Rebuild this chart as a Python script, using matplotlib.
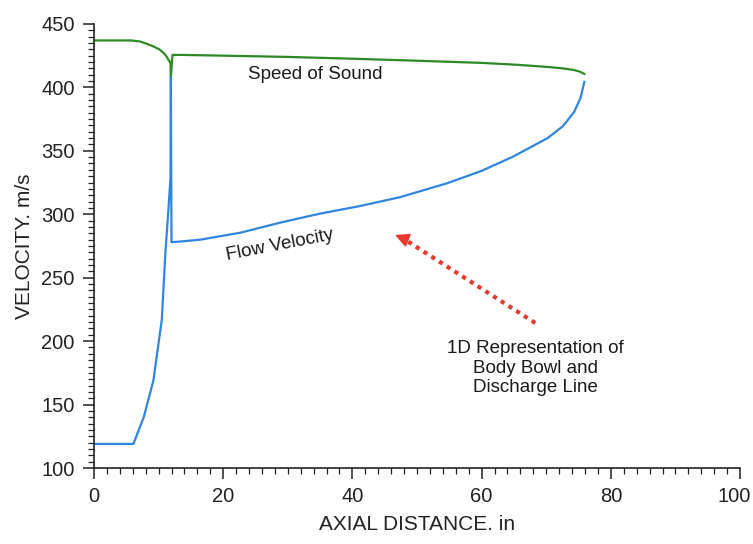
import matplotlib
matplotlib.use("Agg")
import matplotlib.pyplot as plt
from matplotlib.ticker import MultipleLocator, FuncFormatter

plt.rcParams['font.family'] = ['Liberation Sans', 'DejaVu Sans']

# Speed of sound along the axial distance (in, m/s)
sound_x = [0, 3, 5.7, 7.1, 8.1, 9.1, 10.1, 10.7, 11.15, 11.55, 11.85, 11.9,
           12.15, 13.4, 20, 30, 40, 50, 60, 65.5, 70.2, 72.5, 74.3, 75.2, 75.9]
sound_v = [437, 437, 437, 436.2, 434.5, 432.5, 430, 427.5, 425, 421.6, 419.3,
           408.2, 425.6, 425.6, 425, 424, 422.6, 421, 419.3, 417.8, 416.1, 415,
           413.7, 412.4, 410.6]

# Flow velocity along the axial distance (in, m/s)
flow_x = [0, 6.1, 7.7, 9.2, 10.5, 11.05, 11.55, 11.85, 11.9, 12.0, 13.4,
          16.5, 22.7, 28.9, 35.0, 41.2, 47.4, 54.7, 59.9,
          64.9, 70.2, 72.6, 74.3, 75.3, 75.9]
flow_v = [119, 119, 140, 169, 217, 269.5, 305.7, 329.4, 408, 278, 278.5,
          280, 285.5, 293.5, 300.5, 306.5, 313.5, 324.5, 334,
          345.5, 360, 369.5, 380.5, 391.5, 404.3]

X_MAX = 100

fig = plt.figure(figsize=(7.53, 5.44), dpi=100)
ax = fig.add_axes([0.1248, 0.1397, 0.858, 0.8163])

ax.plot(sound_x, sound_v, color='#2e8a26', lw=1.6, solid_joinstyle='round')
ax.plot(flow_x, flow_v, color='#2f86e0', lw=1.6, solid_joinstyle='round')

ax.set_xlim(0, X_MAX)
ax.set_ylim(100, 450)
ax.xaxis.set_major_locator(MultipleLocator(20))
ax.xaxis.set_minor_locator(MultipleLocator(2))
ax.yaxis.set_major_locator(MultipleLocator(50))
ax.yaxis.set_minor_locator(MultipleLocator(5))
# the last x label is drawn separately, shifted in from the figure edge
ax.xaxis.set_major_formatter(
    FuncFormatter(lambda v, _: '' if v >= X_MAX else f'{v:.0f}'))

for side in ('top', 'right'):
    ax.spines[side].set_visible(False)
for side in ('left', 'bottom'):
    ax.spines[side].set_linewidth(1.2)
    ax.spines[side].set_color('#222222')

ax.tick_params(which='major', direction='out', length=8, width=1.1,
               labelsize=14.5, colors='#222222', pad=6)
ax.tick_params(which='minor', direction='out', length=4, width=0.9,
               colors='#222222')

ax.annotate(f'{X_MAX}', xy=(X_MAX, 0), xycoords=('data', 'axes fraction'),
            xytext=(-4.5, -14), textcoords='offset points', ha='center',
            va='top', fontsize=14.5, color='#222222')

ax.set_xlabel('AXIAL DISTANCE. in', fontsize=15, color='#222222', labelpad=6)
ax.set_ylabel('VELOCITY. m/s', fontsize=15, color='#222222', labelpad=5)

ax.text(34.2, 406.4, 'Speed of Sound', fontsize=13.5, ha='center',
        va='baseline', color='#1a1a1a')
ax.text(28.7, 275.8, 'Flow Velocity', fontsize=13.5, ha='center',
        va='center', rotation=11, rotation_mode='anchor', color='#1a1a1a')
ax.text(68.3, 178.8, '1D Representation of\nBody Bowl and\nDischarge Line',
        fontsize=13.5, ha='center', va='center', linespacing=1.2,
        color='#1a1a1a')

# Dotted red pointer towards the flow curve
tail = (68.3, 214.3)
tip = (46.6, 283.7)
red = '#e8392e'
ax.plot([tail[0], tip[0] + 1.2], [tail[1], tip[1] - 2.6], color=red, lw=3,
        linestyle=(0, (1, 1.2)))
ax.annotate('', xy=tip, xytext=(tip[0] + 1.6, tip[1] - 3.4),
            arrowprops=dict(arrowstyle='-|>', color=red, lw=1,
                            mutation_scale=22, shrinkA=0, shrinkB=0))

fig.savefig('out.png', dpi=100)
